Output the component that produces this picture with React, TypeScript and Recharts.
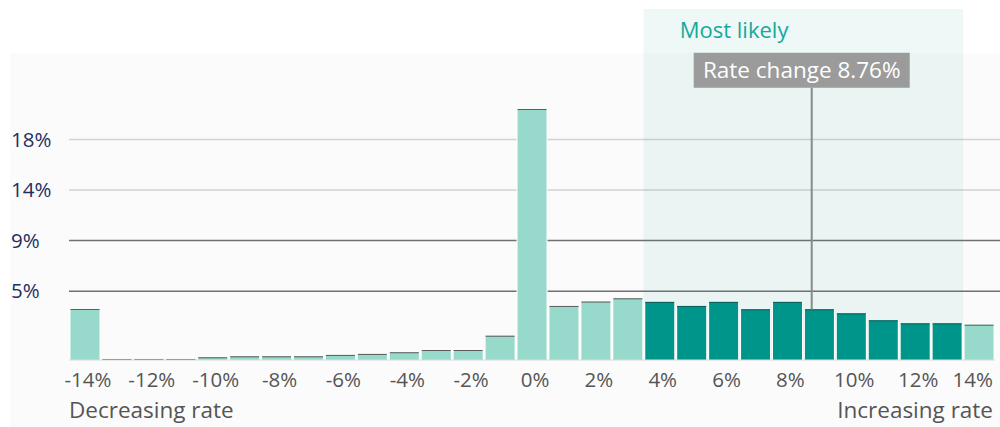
import React from 'react';
import { BarChart, Bar, XAxis, YAxis, CartesianGrid, ReferenceArea, ReferenceLine } from 'recharts';

const RATE_CHANGES = [-14, -13, -12, -11, -10, -9, -8, -7, -6, -5, -4, -3, -2, -1, 0, 1, 2, 3, 4, 5, 6, 7, 8, 9, 10, 11, 12, 13, 14];
const PROBABILITIES = [
  2.91, -1.54, -1.54, -1.54, -1.39, -1.3, -1.3, -1.3, -1.18, -1.09, -0.94, -0.74, -0.74, 0.53,
  20.71, 3.18, 3.57, 3.86, 3.54, 3.18, 3.54, 2.88, 3.54, 2.88, 2.52, 1.9, 1.63, 1.63, 1.51,
];
const Y_TICKS = [4.5, 9, 13.5, 18];
const Y_DOMAIN = [-1.63, 29.61];
const MOST_LIKELY_FROM = 4;
const MOST_LIKELY_TO = 13;
const EXPECTED_RATE = 8.76;
const EXPECTED_LABEL_AT = 22.6;

const LIGHT = '#97dacb';
const DARK = '#00958a';
const FONT = '"Open Sans", "Noto Sans", sans-serif';
// lower two gridlines are darker than the upper two in the original
const GRID_STROKES = ['#707070', '#707070', '#d2d2d2', '#d2d2d2'];

const data = RATE_CHANGES.map((rate, i) => ({
  rate: `${rate}%`,
  rateValue: rate,
  value: PROBABILITIES[i],
  highlighted: rate >= MOST_LIKELY_FROM && rate <= MOST_LIKELY_TO,
}));

// the line stops where it meets the bar it falls in
const expectedBarValue = PROBABILITIES[RATE_CHANGES.indexOf(Math.round(EXPECTED_RATE))];

const BarShape = (props: any) => {
  const { x, y, width, height, payload } = props;
  const fill = payload.highlighted ? DARK : LIGHT;
  const edge = payload.highlighted ? '#0a5e57' : '#5c5c5c';
  return (
    <g>
      <rect x={x - 0.5} y={y} width={width + 1} height={height} fill="#ffffff" />
      <rect x={x + 0.5} y={y} width={width - 1} height={height} fill={fill} />
      <line x1={x + 0.5} x2={x + width - 0.5} y1={y + 0.5} y2={y + 0.5} stroke={edge} strokeWidth={1} />
    </g>
  );
};

const GridLine = (props: any) => {
  if (props.index >= GRID_STROKES.length) return <g />;
  return (
    <line
      x1={props.x1}
      x2={props.x2 + 5}
      y1={props.y1}
      y2={props.y2}
      stroke={GRID_STROKES[props.index]}
      strokeWidth={1.5}
    />
  );
};

const XTick = ({ x, y, payload, index, visibleTicksCount }: any) => {
  const last = index === visibleTicksCount - 1;
  return (
    <text
      x={last ? x + payload.offset - 2 : x + 3}
      y={y}
      dy="0.71em"
      textAnchor={last ? 'end' : 'middle'}
      fill="#555555"
      fontSize={20.5}
      fontFamily={FONT}
    >
      {payload.value}
    </text>
  );
};

const YTick = ({ y, payload }: any) => (
  <text x={11} y={y} dy="0.35em" textAnchor="start" fill="#1f2f63" fontSize={20.5} fontFamily={FONT}>
    {`${Math.round(payload.value)}%`}
  </text>
);

const MostLikelyLabel = ({ viewBox }: any) => (
  <text x={viewBox.x + 36} y={viewBox.y + 28.5} fill="#17a89b" fontSize={22} fontFamily={FONT}>
    Most likely
  </text>
);

const RateLabel = ({ viewBox }: any) => (
  <g>
    <rect x={viewBox.x - 118} y={viewBox.y - 35} width={216} height={35} fill="#9b9b9b" />
    <text x={viewBox.x - 10} y={viewBox.y - 9.5} textAnchor="middle" fill="#ffffff" fontSize={22.5} fontFamily={FONT}>
      {`Rate change ${EXPECTED_RATE}%`}
    </text>
  </g>
);

export default function App() {
  return (
    <div style={{ position: 'absolute', left: 0, top: 0, width: 1000, height: 427, background: '#ffffff', fontFamily: FONT }}>
      <div style={{ position: 'absolute', left: 10, top: 53, width: 990, height: 374, background: '#fbfbfb' }} />
      <BarChart
        width={1000}
        height={427}
        data={data}
        margin={{ top: 9, right: 5, left: 0, bottom: 0 }}
        barCategoryGap={1}
        style={{ position: 'absolute', left: 0, top: 0 }}
      >
        <CartesianGrid vertical={false} horizontal={(p: any) => <GridLine {...p} />} />
        <ReferenceArea
          x1={`${MOST_LIKELY_FROM}%`}
          x2={`${MOST_LIKELY_TO}%`}
          fill="#00968a"
          fillOpacity={0.07}
          label={<MostLikelyLabel />}
        />
        <XAxis
          dataKey="rate"
          interval={1}
          axisLine={{ stroke: '#dcdcdc' }}
          tickLine={false}
          tickSize={6}
          tickMargin={6}
          height={67}
          tick={<XTick />}
        />
        <XAxis xAxisId="num" dataKey="rateValue" type="number" domain={[-14.5, 14.5]} hide />
        <YAxis
          domain={Y_DOMAIN}
          ticks={Y_TICKS}
          width={69}
          axisLine={false}
          tickLine={false}
          tick={<YTick />}
          allowDataOverflow
        />
        <ReferenceLine
          xAxisId="num"
          segment={[
            { x: EXPECTED_RATE, y: expectedBarValue },
            { x: EXPECTED_RATE, y: EXPECTED_LABEL_AT },
          ]}
          stroke="#8a8a8a"
          strokeWidth={2}
          label={<RateLabel />}
        />
        <Bar
          dataKey={(d: any) => [Y_DOMAIN[0], d.value]}
          isAnimationActive={false}
          shape={<BarShape />}
        />
      </BarChart>
      <div style={{ position: 'absolute', left: 69, top: 395, fontSize: 22.5, color: '#555555', lineHeight: '30px' }}>
        Decreasing rate
      </div>
      <div style={{ position: 'absolute', right: 7, top: 395, fontSize: 22.5, color: '#555555', lineHeight: '30px' }}>
        Increasing rate
      </div>
    </div>
  );
}
